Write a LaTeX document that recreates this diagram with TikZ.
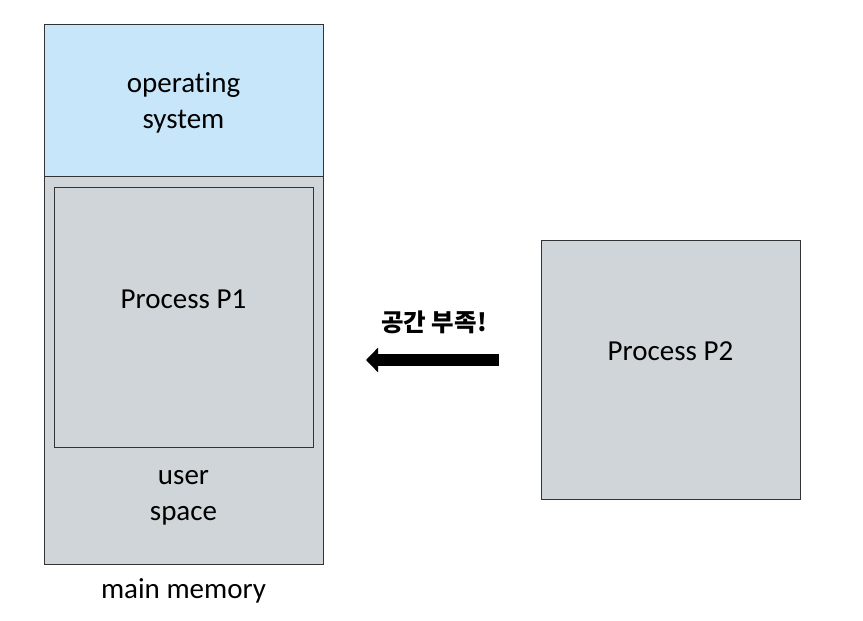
\documentclass[tikz,border=0pt]{standalone}
\usepackage{fontspec}
\setmainfont{Carlito}[Ligatures=NoCommon]
\newfontfamily\kofont{Noto Sans CJK KR}
\usetikzlibrary{arrows.meta, positioning}

\definecolor{osblue}{HTML}{C8E6F9}
\definecolor{memgray}{HTML}{CFD5D8}
\definecolor{lineclr}{HTML}{333333}

\tikzset{
	membox/.style = {draw=lineclr, line width=1pt},
	label29/.style = {font=\fontsize{29}{36}\selectfont, align=center},
	bigarrow/.style = {line width=12pt, -{Triangle[length=12pt, width=24pt]}}
}

\begin{document}
\begin{tikzpicture}[x=1pt, y=-1pt]
	\useasboundingbox (0,0) rectangle (863,621);

	% main memory
	\filldraw[membox, fill=memgray] (44,176) rectangle (323,564);
	\filldraw[membox, fill=osblue] (44,24) rectangle (323,176);
	\node[label29] (os) at (183.5,103) {operating\\system};
	\node[label29] (user) at (183.5,498) {user\\space};
	\node[label29] (mem) at (183.5,591) {main memory};

	% processes
	\node[membox, fill=memgray, minimum width=259pt, minimum height=260pt, inner sep=0pt] (p1) at (183.5,317) {};
	\node[label29] at (183.5,299) {Process P1};
	\node[membox, fill=memgray, minimum width=259pt, minimum height=259pt, inner sep=0pt] (p2) at (670.5,369.5) {};
	\node[label29] at (670.5,351) {Process P2};

	% no room
	\coordinate (tail) at (499,360);
	\coordinate (tip) at (366,360);
	\draw[bigarrow] (tail) -- (tip);
	\node[font=\kofont\bfseries\fontsize{24.5}{29}\selectfont] (msg) at (434,322) {공간 부족!};

\end{tikzpicture}
\end{document}
